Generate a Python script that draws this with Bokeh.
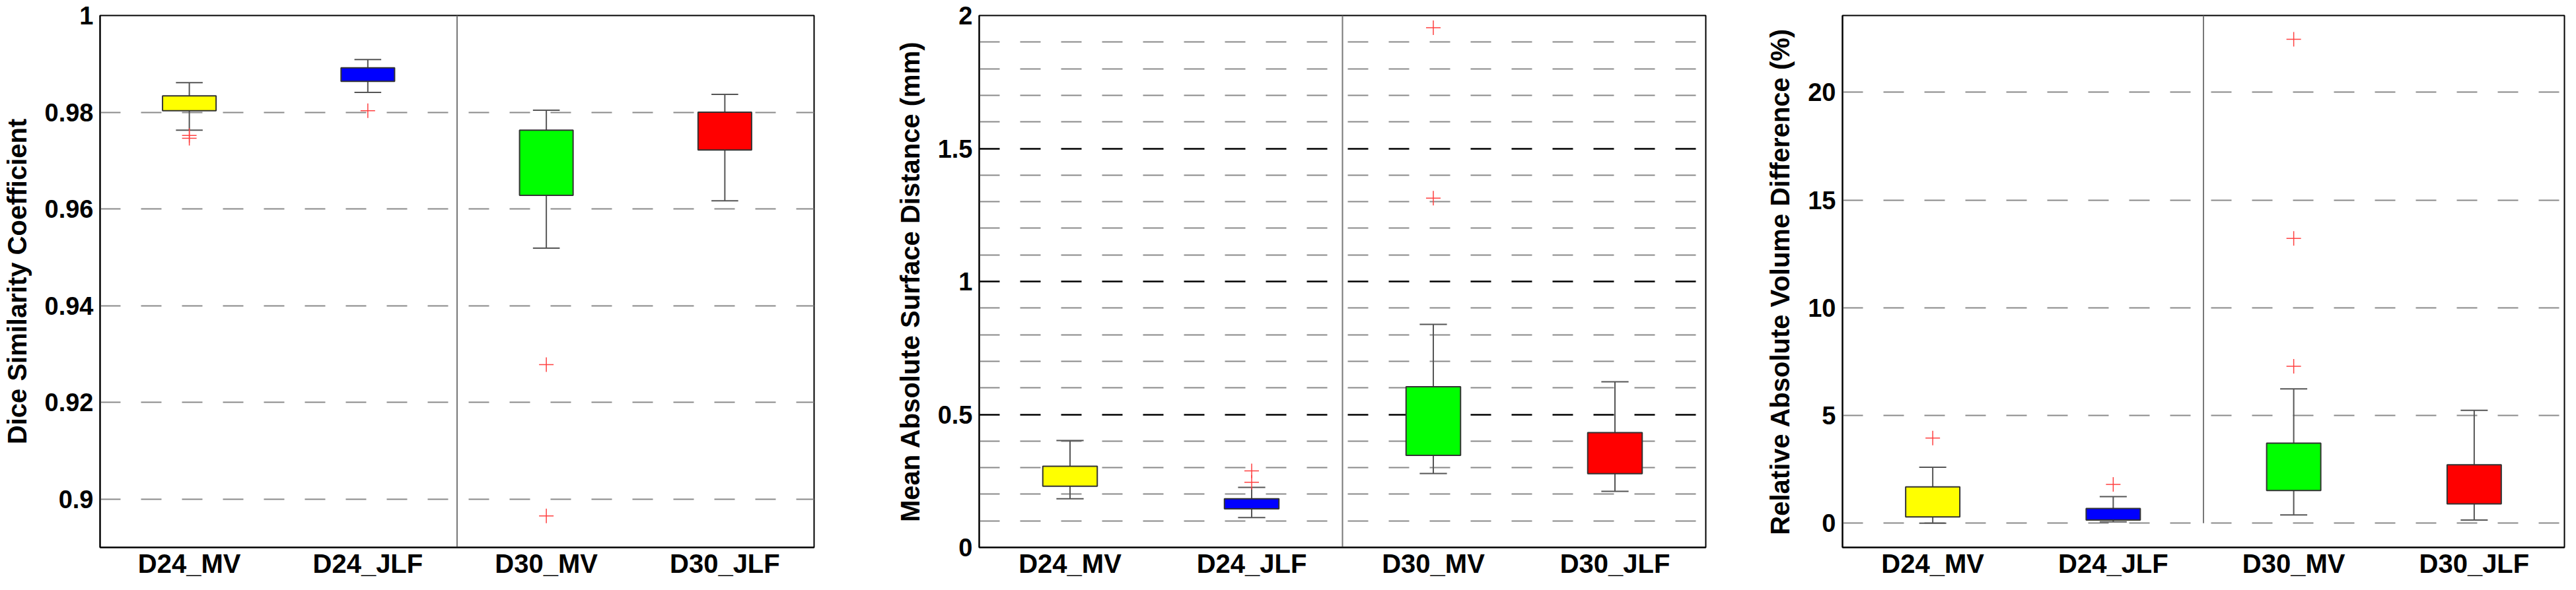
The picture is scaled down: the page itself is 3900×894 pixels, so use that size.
from bokeh.plotting import figure
from bokeh.layouts import row
from bokeh.models import Range1d, FixedTicker
from bokeh.embed import file_html
from bokeh.resources import INLINE

# ---------------- data ----------------
categories = ["D24_MV", "D24_JLF", "D30_MV", "D30_JLF"]
box_colors = ["#ffff00", "#0000ff", "#00ff00", "#ff0000"]

# Dice similarity coefficient (outlier categories are 1-based positions)
dsc_whisk_hi = [0.9861, 0.9909, 0.9804, 0.9837]
dsc_q3 = [0.9834, 0.9892, 0.9763, 0.9800]
dsc_q1 = [0.9803, 0.9864, 0.9628, 0.9722]
dsc_whisk_lo = [0.9763, 0.9841, 0.9519, 0.9617]
dsc_out_cat = [1, 1, 2, 3, 3]
dsc_out_val = [0.9752, 0.9746, 0.9803, 0.9278, 0.8965]
dsc_ticks = [0.9, 0.92, 0.94, 0.96, 0.98, 1.0]
dsc_tick_labels = ["0.9", "0.92", "0.94", "0.96", "0.98", "1"]

# Mean absolute surface distance (mm)
masd_whisk_hi = [0.402, 0.226, 0.839, 0.623]
masd_q3 = [0.305, 0.183, 0.604, 0.432]
masd_q1 = [0.230, 0.145, 0.346, 0.277]
masd_whisk_lo = [0.183, 0.112, 0.278, 0.211]
masd_out_cat = [2, 2, 3, 3]
masd_out_val = [0.288, 0.245, 1.954, 1.313]
masd_ticks = [0, 0.5, 1, 1.5, 2]
masd_tick_labels = ["0", "0.5", "1", "1.5", "2"]
masd_minor = [0.1, 0.2, 0.3, 0.4, 0.6, 0.7, 0.8, 0.9, 1.1, 1.2, 1.3, 1.4, 1.6, 1.7, 1.8, 1.9]

# Relative absolute volume difference (%)
ravd_whisk_hi = [2.59, 1.23, 6.23, 5.24]
ravd_q3 = [1.68, 0.68, 3.71, 2.71]
ravd_q1 = [0.29, 0.14, 1.51, 0.89]
ravd_whisk_lo = [0.0, 0.06, 0.38, 0.14]
ravd_out_cat = [1, 2, 3, 3, 3]
ravd_out_val = [3.95, 1.80, 22.47, 13.22, 7.28]
ravd_ticks = [0, 5, 10, 15, 20]
ravd_tick_labels = ["0", "5", "10", "15", "20"]

FONT = "Liberation Sans"
BOX_W = 0.3
CAP_W = 0.15


def make_panel(title, whi, q3, q1, wlo, out_cat, out_val, yr, ticks, tick_labels,
               width, mb_left, mb_top, mb_bottom, mb_right, minor=None):
    p = figure(width=width, height=878, output_backend="svg", toolbar_location=None,
               x_range=Range1d(0.5, 4.5), y_range=Range1d(*yr),
               min_border_left=mb_left, min_border_right=mb_right,
               min_border_top=mb_top, min_border_bottom=mb_bottom)
    p.background_fill_color = "white"
    p.border_fill_color = "white"
    p.outline_line_color = "black"
    p.outline_line_width = 2

    xs = list(range(1, len(categories) + 1))

    # x axis
    p.xaxis.ticker = FixedTicker(ticks=xs)
    p.xaxis.major_label_overrides = {x: c for x, c in zip(xs, categories)}
    p.xaxis.major_label_text_font = FONT
    p.xaxis.major_label_text_font_style = "bold"
    p.xaxis.major_label_text_font_size = "40px"
    p.xaxis.major_label_text_color = "black"
    p.xaxis.major_label_standoff = 2
    p.xaxis.major_tick_out = 0
    p.xaxis.major_tick_in = 0
    p.xaxis.minor_tick_out = 0
    p.xaxis.minor_tick_in = 0
    p.xaxis.axis_line_color = "black"
    p.xaxis.axis_line_width = 2
    p.xgrid.grid_line_color = None

    # y axis
    p.yaxis.ticker = FixedTicker(ticks=ticks, minor_ticks=minor or [])
    p.yaxis.major_label_overrides = {t: l for t, l in zip(ticks, tick_labels)}
    p.yaxis.major_label_text_font = FONT
    p.yaxis.major_label_text_font_style = "bold"
    p.yaxis.major_label_text_font_size = "38px"
    p.yaxis.major_label_text_color = "black"
    p.yaxis.major_label_standoff = 10
    p.yaxis.major_tick_out = 0
    p.yaxis.major_tick_in = 0
    p.yaxis.minor_tick_out = 0
    p.yaxis.minor_tick_in = 0
    p.yaxis.axis_line_color = "black"
    p.yaxis.axis_line_width = 2
    p.yaxis.axis_label = title
    p.yaxis.axis_label_text_font = FONT
    p.yaxis.axis_label_text_font_style = "bold"
    p.yaxis.axis_label_text_font_size = "40px"
    p.yaxis.axis_label_text_color = "black"
    p.yaxis.axis_label_standoff = 17

    p.ygrid.ticker = FixedTicker(ticks=ticks, minor_ticks=minor or [])
    if minor:
        p.ygrid.grid_line_color = "#000000"
        p.ygrid.grid_line_width = 2.5
        p.ygrid.minor_grid_line_color = "#8a8a8a"
        p.ygrid.minor_grid_line_width = 2
        p.ygrid.minor_grid_line_dash = "31 31"
    else:
        p.ygrid.grid_line_color = "#8a8a8a"
        p.ygrid.grid_line_width = 2
    p.ygrid.grid_line_dash = "31 31"

    # separator between D24 and D30 groups
    p.segment(x0=[2.5], y0=[0], x1=[2.5], y1=[yr[1]], line_color="#777777", line_width=2)

    # whiskers
    p.segment(x0=xs, y0=q3, x1=xs, y1=whi, line_color="#555555", line_width=2)
    p.segment(x0=xs, y0=q1, x1=xs, y1=wlo, line_color="#555555", line_width=2)
    p.segment(x0=[x - CAP_W / 2 for x in xs], y0=whi, x1=[x + CAP_W / 2 for x in xs], y1=whi,
              line_color="#555555", line_width=2)
    p.segment(x0=[x - CAP_W / 2 for x in xs], y0=wlo, x1=[x + CAP_W / 2 for x in xs], y1=wlo,
              line_color="#555555", line_width=2)

    # boxes
    p.quad(left=[x - BOX_W / 2 for x in xs], right=[x + BOX_W / 2 for x in xs],
           bottom=q1, top=q3, fill_color=box_colors, line_color="#333333", line_width=2)

    # outliers
    p.scatter(x=out_cat, y=out_val, marker="cross", size=22, line_color="#ff4040",
              line_width=1.5)
    return p


p1 = make_panel("Dice Similarity Coefficient", dsc_whisk_hi, dsc_q3, dsc_q1, dsc_whisk_lo,
                dsc_out_cat, dsc_out_val, (0.89, 1.0), dsc_ticks, dsc_tick_labels,
                width=1242, mb_left=143, mb_top=23, mb_bottom=46, mb_right=10)
p2 = make_panel("Mean Absolute Surface Distance (mm)", masd_whisk_hi, masd_q3, masd_q1, masd_whisk_lo,
                masd_out_cat, masd_out_val, (0.0, 2.0), masd_ticks, masd_tick_labels,
                width=1350, mb_left=240, mb_top=23, mb_bottom=44, mb_right=10, minor=masd_minor)
p3 = make_panel("Relative Absolute Volume Difference (%)", ravd_whisk_hi, ravd_q3, ravd_q1, ravd_whisk_lo,
                ravd_out_cat, ravd_out_val, (-1.13, 23.57), ravd_ticks, ravd_tick_labels,
                width=1292, mb_left=197, mb_top=16, mb_bottom=47, mb_right=2)

layout = row(p1, p2, p3)
open("out.html", "w").write(file_html(layout, INLINE))
